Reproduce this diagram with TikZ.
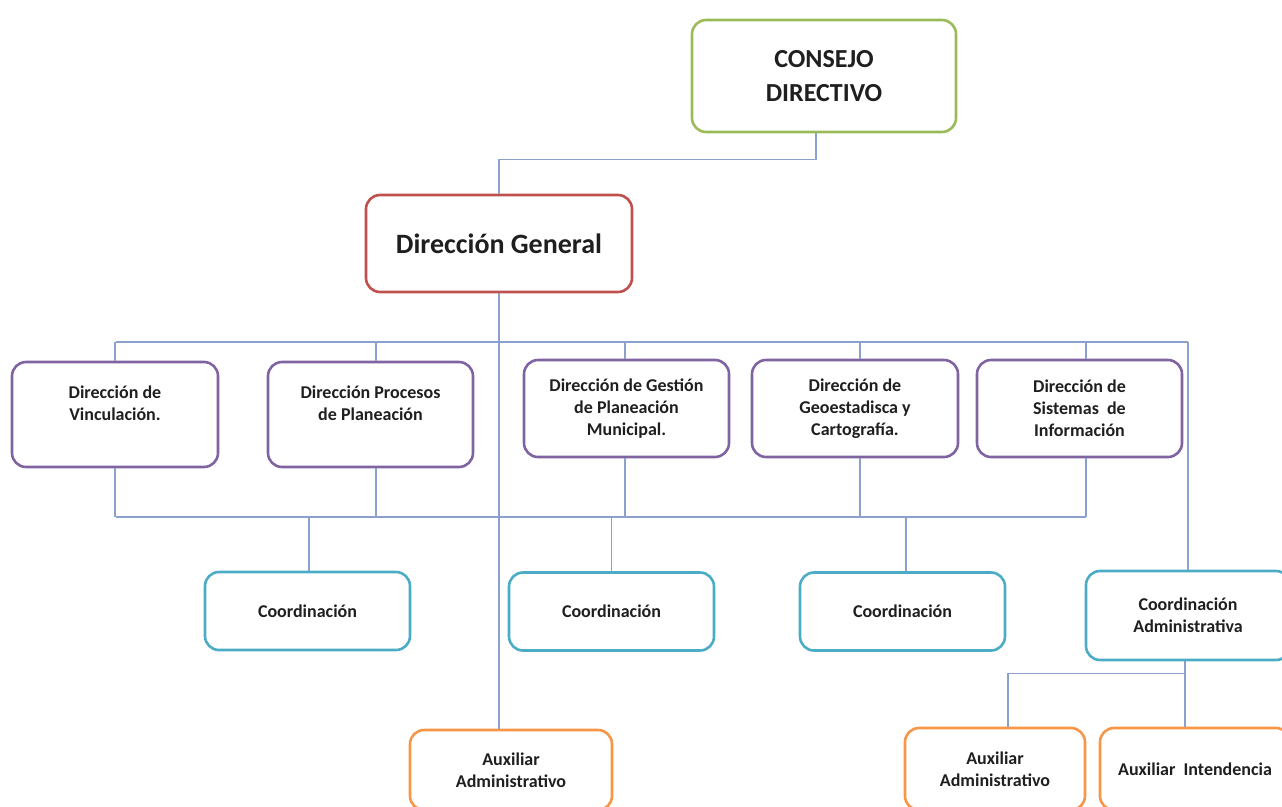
\documentclass[tikz,border=0pt]{standalone}
\usepackage{fontspec}
\setmainfont{Carlito}
\definecolor{lnc}{RGB}{140,160,205}
\definecolor{cgreen}{RGB}{155,187,89}
\definecolor{cred}{RGB}{192,80,77}
\definecolor{cpurple}{RGB}{128,100,162}
\definecolor{cteal}{RGB}{75,172,198}
\definecolor{corange}{RGB}{247,150,70}
\tikzset{
  box/.style={draw, line width=2.6pt, rounded corners=14pt, fill=white, align=center,
    font=\fontsize{18}{22}\selectfont\bfseries, text=black!88, inner sep=0pt},
  lbl/.style={align=center, font=\fontsize{18}{22}\selectfont\bfseries, text=black!88, inner sep=0pt},
  conn/.style={draw=lnc, line width=1.3pt},
  gbox/.style={box, draw=cgreen},
  rbox/.style={box, draw=cred},
  pbox/.style={box, draw=cpurple},
  tbox/.style={box, draw=cteal},
  obox/.style={box, draw=corange},
}
\begin{document}
\begin{tikzpicture}[x=1pt,y=-1pt]
\useasboundingbox (0,0) rectangle (1282,806);
% top boxes
\node[gbox, minimum width=264, minimum height=112, font=\fontsize{26}{34}\selectfont\bfseries] (cons) at (824,76) {CONSEJO\\DIRECTIVO};
\node[rbox, minimum width=266, minimum height=97, font=\fontsize{28}{34}\selectfont\bfseries] (dg) at (499,243.5) {Dirección General};
% row 1
\node[pbox, minimum width=206, minimum height=105] (d1) at (115,414.5) {};
\node[lbl] at ([yshift=11]d1.center) {Dirección de\\Vinculación.};
\node[pbox, minimum width=205, minimum height=105] (d2) at (370.5,414.5) {};
\node[lbl] at ([yshift=11]d2.center) {Dirección Procesos\\de Planeación};
\node[pbox, minimum width=205, minimum height=97] (d3) at (626.5,408.5) {Dirección de Gestión\\de Planeación\\Municipal.};
\node[pbox, minimum width=206, minimum height=97] (d4) at (855,408.5) {Dirección de\\Geoestadisca y\\Cartografía.};
\node[pbox, minimum width=205, minimum height=97] (d5) at (1079.5,408.5) {Dirección de\\Sistemas\ \ de\\Información};
% row 2
\node[tbox, minimum width=205, minimum height=78] (c1) at (307.5,611) {Coordinación};
\node[tbox, minimum width=205, minimum height=78] (c2) at (611.5,611.5) {Coordinación};
\node[tbox, minimum width=205, minimum height=78] (c3) at (902.5,611.5) {Coordinación};
\node[tbox, minimum width=204, minimum height=89] (ca) at (1188,615.5) {Coordinación\\Administrativa};
% row 3
\node[obox, minimum width=202, minimum height=80] (a1) at (511,770) {Auxiliar\\Administrativo};
\node[obox, minimum width=180, minimum height=82] (a2) at (995,769) {Auxiliar\\Administrativo};
\node[obox, minimum width=190, minimum height=82] (a3) at (1195,769) {Auxiliar\ \ Intendencia};
% junction coordinates
\coordinate (busL) at (116,342);
\coordinate (busR) at (1188,342);
\coordinate (busB) at (116,517);
\coordinate (busBR) at (1086,517);
% connectors
\draw[conn] ([xshift=-8]cons.south) -- ++(0,26) -| (dg.north);
\draw[conn] (dg.south) -- (dg.south |- a1.north);
\draw[conn] (busL) -- (busR);
\draw[conn] (busR) -- (ca.north);
\draw[conn] (d1.north) -- (d1.north |- busL);
\draw[conn] ([xshift=5.5]d2.north) -- ([xshift=5.5]d2.north |- busL);
\draw[conn] ([xshift=-1.5]d3.north) -- ([xshift=-1.5]d3.north |- busL);
\draw[conn] ([xshift=5]d4.north) -- ([xshift=5]d4.north |- busL);
\draw[conn] ([xshift=6.5]d5.north) -- ([xshift=6.5]d5.north |- busL);
\draw[conn] (busB) -- (busBR);
\draw[conn] (d1.south) -- (d1.south |- busB);
\draw[conn] ([xshift=5.5]d2.south) -- ([xshift=5.5]d2.south |- busB);
\draw[conn] ([xshift=-1.5]d3.south) -- ([xshift=-1.5]d3.south |- busB);
\draw[conn] ([xshift=5]d4.south) -- ([xshift=5]d4.south |- busB);
\draw[conn] ([xshift=6.5]d5.south) -- ([xshift=6.5]d5.south |- busB);
\draw[conn] ([xshift=1.5]c1.north |- busB) -- ([xshift=1.5]c1.north);
\draw[conn] (c2.north |- busB) -- (c2.north);
\draw[conn] ([xshift=3.5]c3.north |- busB) -- ([xshift=3.5]c3.north);
\draw[conn] ([xshift=-3]ca.south) -- ([xshift=-10]a3.north);
\draw[conn] ([xshift=-3]ca.south) -- ++(0,12) -| ([xshift=13]a2.north);
\end{tikzpicture}
\end{document}
